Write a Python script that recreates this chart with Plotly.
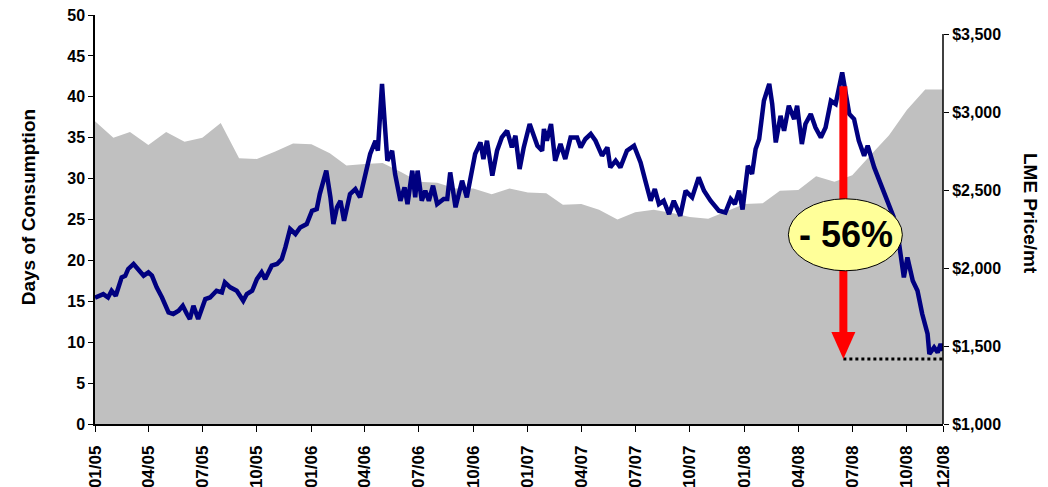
"""
    Aluminium stocks (days of consumption) vs LME price, 2005-2008
"""

import pandas as pd
import plotly.graph_objects as go

FONT = "Arial, 'Liberation Sans', sans-serif"

# Stocks, days of consumption (left axis), one value per month
months = pd.date_range("2005-01-01", "2008-12-01", freq="MS")
days_consumption = [
    37.0, 35.0, 35.7, 34.1, 35.7, 34.5, 35.0, 36.8, 32.5, 32.4, 33.3, 34.3,
    34.2, 33.1, 31.6, 31.8, 31.9, 30.8, 29.6, 29.5, 28.8, 28.8, 28.1, 28.8,
    28.3, 28.2, 26.8, 26.9, 26.2, 25.0, 25.9, 26.2, 25.8, 25.3, 25.1, 26.0,
    26.9, 27.0, 28.5, 28.6, 30.3, 29.6, 30.4, 32.9, 35.3, 38.4, 40.9, 40.9,
]

# LME price, $/mt (right axis)
price_dates = [
    "2005-01-01", "2005-01-15", "2005-01-23", "2005-01-29", "2005-02-05",
    "2005-02-15", "2005-02-21", "2005-02-26", "2005-03-07", "2005-03-15",
    "2005-03-24", "2005-04-01", "2005-04-07", "2005-04-15", "2005-04-24",
    "2005-05-05", "2005-05-13", "2005-05-22", "2005-05-29", "2005-06-05",
    "2005-06-10", "2005-06-16", "2005-06-24", "2005-07-06", "2005-07-14",
    "2005-07-25", "2005-08-03", "2005-08-08", "2005-08-17", "2005-08-28",
    "2005-09-08", "2005-09-14", "2005-09-23", "2005-10-01", "2005-10-09",
    "2005-10-15", "2005-10-26", "2005-11-04", "2005-11-12", "2005-11-18",
    "2005-11-26", "2005-12-05", "2005-12-13", "2005-12-24", "2006-01-02",
    "2006-01-10", "2006-01-15", "2006-01-26", "2006-02-02", "2006-02-07",
    "2006-02-13", "2006-02-19", "2006-02-25", "2006-03-07", "2006-03-16",
    "2006-03-24", "2006-04-02", "2006-04-10", "2006-04-19", "2006-04-23",
    "2006-04-30", "2006-05-06", "2006-05-09", "2006-05-17", "2006-05-22",
    "2006-05-31", "2006-06-07", "2006-06-12", "2006-06-20", "2006-06-25",
    "2006-06-29", "2006-07-06", "2006-07-12", "2006-07-18", "2006-07-25",
    "2006-08-01", "2006-08-12", "2006-08-18", "2006-08-23", "2006-09-01",
    "2006-09-12", "2006-09-20", "2006-09-29", "2006-10-04", "2006-10-13",
    "2006-10-18", "2006-10-24", "2006-11-02", "2006-11-10", "2006-11-18",
    "2006-11-27", "2006-12-05", "2006-12-11", "2006-12-18", "2006-12-25",
    "2007-01-04", "2007-01-17", "2007-01-25", "2007-01-28", "2007-02-02",
    "2007-02-09", "2007-02-16", "2007-02-25", "2007-03-05", "2007-03-14",
    "2007-03-25", "2007-03-31", "2007-04-08", "2007-04-17", "2007-04-25",
    "2007-05-06", "2007-05-15", "2007-05-20", "2007-05-29", "2007-06-06",
    "2007-06-17", "2007-06-29", "2007-07-10", "2007-07-18", "2007-07-27",
    "2007-08-03", "2007-08-10", "2007-08-18", "2007-08-27", "2007-09-04",
    "2007-09-10", "2007-09-15", "2007-09-24", "2007-10-05", "2007-10-16",
    "2007-10-25", "2007-11-05", "2007-11-19", "2007-11-30", "2007-12-09",
    "2007-12-16", "2007-12-23", "2007-12-29", "2008-01-07", "2008-01-14",
    "2008-01-20", "2008-01-26", "2008-02-03", "2008-02-12", "2008-02-17",
    "2008-02-23", "2008-03-02", "2008-03-08", "2008-03-16", "2008-03-25",
    "2008-03-30", "2008-04-07", "2008-04-13", "2008-04-22", "2008-04-30",
    "2008-05-09", "2008-05-17", "2008-05-26", "2008-06-03", "2008-06-14",
    "2008-06-26", "2008-07-04", "2008-07-12", "2008-07-21", "2008-07-27",
    "2008-08-07", "2008-08-18", "2008-08-29", "2008-09-09", "2008-09-18",
    "2008-09-26", "2008-10-02", "2008-10-11", "2008-10-19", "2008-10-27",
    "2008-11-05", "2008-11-08", "2008-11-16", "2008-11-22", "2008-11-27",
    "2008-12-01",
]
lme_price = [
    1810, 1833, 1811, 1854, 1822, 1940, 1950, 1994, 2026, 1994,
    1951, 1972, 1951, 1876, 1811, 1715, 1705, 1726, 1758, 1705,
    1673, 1758, 1673, 1801, 1811, 1854, 1844, 1908, 1876, 1854,
    1790, 1833, 1854, 1929, 1972, 1929, 2015, 2026, 2058, 2132,
    2250, 2218, 2260, 2282, 2367, 2378, 2474, 2624, 2453, 2282,
    2389, 2431, 2303, 2474, 2506, 2453, 2603, 2731, 2816, 2752,
    3180, 2901, 2688, 2752, 2603, 2431, 2517, 2410, 2624, 2453,
    2624, 2431, 2496, 2431, 2528, 2410, 2442, 2442, 2613, 2389,
    2560, 2453, 2624, 2731, 2805, 2699, 2816, 2592, 2752, 2837,
    2880, 2773, 2848, 2635, 2773, 2923, 2784, 2752, 2891, 2816,
    2923, 2688, 2795, 2699, 2837, 2837, 2773, 2827, 2859, 2816,
    2720, 2773, 2645, 2688, 2645, 2752, 2784, 2677, 2560, 2431,
    2506, 2410, 2431, 2346, 2431, 2378, 2335, 2495, 2453, 2581,
    2495, 2431, 2367, 2356, 2442, 2410, 2496, 2375, 2655, 2603,
    2763, 2827, 3072, 3180, 3051, 2805, 2976, 2880, 3040, 2955,
    3040, 2795, 2923, 2987, 2901, 2837, 2901, 3072, 3051, 3254,
    2987, 2955, 2816, 2720, 2784, 2645, 2538, 2431, 2324, 2154,
    1940, 2068, 1919, 1854, 1705, 1577, 1449, 1491, 1459, 1513,
    1470,
]

# x ticks: quarterly plus the last month
tick_dates = list(pd.date_range("2005-01-01", "2008-10-01", freq="QS")) + [pd.Timestamp("2008-12-01")]
tick_text = [d.strftime("%m/%y") for d in tick_dates]

price_ticks = list(range(1000, 3501, 500))
price_text = [f"${v:,}" for v in price_ticks]

# the drop callout
drop_date = "2008-06-16"
drop_top = 3165
drop_low = 1417
drop_label = "- 56%"
label_price = 2213

fig = go.Figure()
fig.add_trace(go.Scatter(x=months, y=days_consumption, mode="lines",
                         line={"width": 0, "color": "#C0C0C0"},
                         fill="tozeroy", fillcolor="#C0C0C0",
                         showlegend=False, hoverinfo="skip"))
fig.add_trace(go.Scatter(x=price_dates, y=lme_price, mode="lines", yaxis="y2",
                         line={"width": 4.5, "color": "#000080"},
                         showlegend=False))

tick_font = {"family": FONT, "size": 16, "color": "black", "weight": "bold"}

# the page body adds an 8px offset, so the figure is 8px smaller than the window
fig.update_layout(
    width=1040, height=479,
    margin={"l": 87, "r": 105, "t": 7, "b": 63},
    plot_bgcolor="white", paper_bgcolor="white",
    xaxis={"type": "date", "range": ["2005-01-01", "2008-12-01"],
           "tickvals": tick_dates, "ticktext": tick_text, "tickangle": -90,
           "tickfont": {**tick_font, "size": 17}, "automargin": False,
           "ticklabelstandoff": 7, "ticklabeloverflow": "allow",
           "ticks": "outside", "ticklen": 6, "tickcolor": "black",
           "showline": True, "linecolor": "black", "linewidth": 1.5,
           "showgrid": False, "zeroline": False},
    yaxis={"range": [0, 50], "tickvals": list(range(0, 51, 5)),
           "tickfont": tick_font, "ticks": "outside", "ticklen": 5,
           "ticklabeloverflow": "allow",
           "tickcolor": "black", "showline": True, "linecolor": "black",
           "linewidth": 1.5, "showgrid": False, "zeroline": False,
           "automargin": False},
    yaxis2={"range": [1000, 3622], "overlaying": "y", "side": "right",
            "tickvals": price_ticks, "ticktext": price_text,
            "tickfont": tick_font, "ticks": "outside", "automargin": False,
            "ticklabeloverflow": "allow",
            "ticklen": 5, "tickcolor": "black", "showline": False,
            "showgrid": False, "zeroline": False},
    shapes=[
        # right axis line stops at $3,500
        {"type": "line", "xref": "paper", "yref": "y2", "x0": 1, "x1": 1,
         "y0": 1000, "y1": 3500, "line": {"color": "black", "width": 1.5}},
        # dotted level of the low
        {"type": "line", "xref": "x", "yref": "y2", "x0": drop_date,
         "x1": "2008-12-01", "y0": drop_low, "y1": drop_low,
         "line": {"color": "black", "width": 3, "dash": "dot"}},
        # red arrow shaft and head
        {"type": "line", "xref": "x", "yref": "y2", "x0": drop_date,
         "x1": drop_date, "y0": drop_top, "y1": drop_low + 160,
         "line": {"color": "#FF0000", "width": 8}},
        {"type": "path", "xref": "x", "yref": "y2", "xsizemode": "pixel",
         "ysizemode": "pixel", "xanchor": drop_date, "yanchor": drop_low,
         "path": "M -12,27 L 12,27 L 0,0 Z", "fillcolor": "#FF0000",
         "line": {"width": 0}},
        # yellow ellipse behind the label
        {"type": "circle", "xref": "x", "yref": "y2", "xsizemode": "pixel",
         "ysizemode": "pixel", "xanchor": drop_date, "yanchor": label_price,
         "x0": -55, "x1": 59, "y0": -36, "y1": 36, "fillcolor": "#FFFF99",
         "line": {"color": "black", "width": 1}},
    ],
    annotations=[
        {"x": drop_date, "y": label_price, "xref": "x", "yref": "y2",
         "xshift": 3, "text": f"<b>{drop_label}</b>", "showarrow": False,
         "font": {"family": FONT, "size": 36, "color": "black"}},
        {"x": -0.079, "y": 0.53, "xref": "paper", "yref": "paper",
         "xanchor": "center", "yanchor": "middle",
         "text": "<b>Days of Consumption</b>", "textangle": -90,
         "showarrow": False, "font": {"family": FONT, "size": 19, "color": "black"}},
        {"x": 1.1026, "y": 0.516, "xref": "paper", "yref": "paper",
         "xanchor": "center", "yanchor": "middle",
         "text": "<b>LME Price/mt</b>", "textangle": 90,
         "showarrow": False, "font": {"family": FONT, "size": 19, "color": "black"}},
    ],
)

fig.write_html("out.html")
